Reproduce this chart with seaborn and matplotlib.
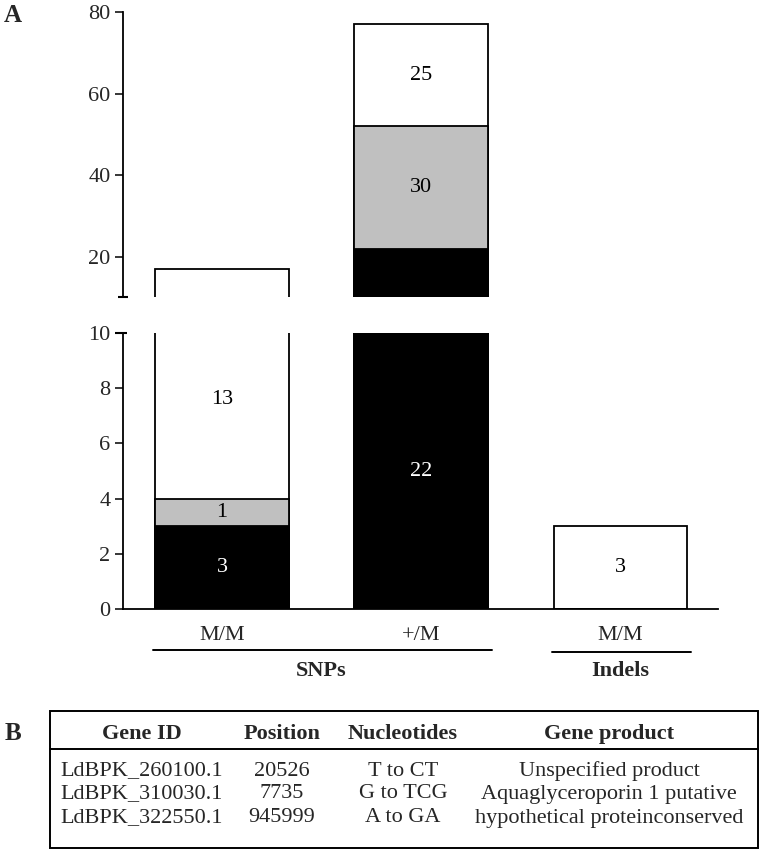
import matplotlib
matplotlib.use("Agg")
import matplotlib.pyplot as plt
import matplotlib.transforms as mtrans
from matplotlib.patches import Rectangle
from matplotlib.lines import Line2D
import seaborn as sns
import pandas as pd

# ---------------- data ----------------
bar_keys = ["SNPs M/M", "SNPs +/M", "Indels M/M"]
tick_labels = ["M/M", "+/M", "M/M"]
groups = ["SNPs", "SNPs", "Indels"]
black_vals = [3, 22, 0]
gray_vals = [1, 30, 0]
white_vals = [13, 25, 3]

table_header = ["Gene ID", "Position", "Nucleotides", "Gene product"]
gene_ids = ["LdBPK_260100.1", "LdBPK_310030.1", "LdBPK_322550.1"]
positions = ["20526", "7735", "945999"]
nucleotides = ["T to CT", "G to TCG", "A to GA"]
products = ["Unspecified product", "Aquaglyceroporin 1 putative", "hypothetical proteinconserved"]

# ---------------- style ----------------
sns.set_style("ticks")
plt.rcParams["font.family"] = ["Liberation Serif", "DejaVu Serif"]
plt.rcParams["font.size"] = 16
plt.rcParams["axes.linewidth"] = 1.3
plt.rcParams["xtick.major.width"] = 1.3
plt.rcParams["ytick.major.width"] = 1.3
plt.rcParams["axes.edgecolor"] = "black"

W, H = 764, 852
fig = plt.figure(figsize=(W / 100, H / 100), dpi=100)

def fx(px):
    return px / W

def fy(py):
    return 1 - py / H

ax_lo = fig.add_axes([fx(123), fy(609), fx(718) - fx(123), fy(333) - fy(609)])
ax_hi = fig.add_axes([fx(123), fy(297), fx(718) - fx(123), fy(12) - fy(297)])

df = pd.DataFrame({
    "bar": bar_keys,
    "black": black_vals,
    "gray": gray_vals,
    "white": white_vals,
})
df["cum_black"] = df["black"]
df["cum_gray"] = df["black"] + df["gray"]
df["cum_white"] = df["cum_gray"] + df["white"]

GRAY = "#c0c0c0"
bw = 0.67
for ax in (ax_lo, ax_hi):
    for col, color in [("cum_white", "white"), ("cum_gray", GRAY), ("cum_black", "black")]:
        sns.barplot(data=df, x="bar", y=col, order=bar_keys, color=color,
                    width=bw, edgecolor="black", linewidth=1.3, ax=ax,
                    saturation=1, errorbar=None, zorder=2)
    ax.set_xlim(-0.497, 2.49)
    ax.set_xlabel("")
    ax.set_ylabel("")
    ax.spines["right"].set_visible(False)
    ax.spines["top"].set_visible(False)
    ax.tick_params(axis="y", direction="out", length=6, width=1.3, labelsize=16, pad=3)

ax_lo.set_ylim(0, 10)
ax_lo.set_yticks([0, 2, 4, 6, 8, 10])
ax_lo.set_xticks(range(len(bar_keys)))
ax_lo.set_xticklabels(tick_labels, fontsize=16)
ax_lo.tick_params(axis="x", length=0, pad=12)

ax_hi.set_ylim(10.2, 80)
ax_hi.set_yticks([20, 40, 60, 80])
ax_hi.spines["bottom"].set_visible(False)
ax_hi.set_xticks([])

# break caps on the y spine
ax_hi.plot([-0.009, 0.009], [0, 0], transform=ax_hi.transAxes, color="black",
           lw=1.5, clip_on=False, solid_capstyle="butt")
ax_lo.plot([-0.013, 0.006], [1, 1], transform=ax_lo.transAxes, color="black",
           lw=1.5, clip_on=False, solid_capstyle="butt")

# segment labels
for i in range(len(bar_keys)):
    segs = [(0, black_vals[i], "white"),
            (black_vals[i], black_vals[i] + gray_vals[i], "black"),
            (black_vals[i] + gray_vals[i], black_vals[i] + gray_vals[i] + white_vals[i], "black")]
    vals = [black_vals[i], gray_vals[i], white_vals[i]]
    for (b, t, tc), v in zip(segs, vals):
        if v <= 0:
            continue
        if b < 10:
            y = (b + min(t, 10)) / 2
            if t > 10 and b > 0:
                y = b + (10 - b) * 0.6
            ax_lo.text(i, y, str(v), ha="center", va="center", color=tc, fontsize=16, zorder=5)
        else:
            y = (b + t) / 2
            ax_hi.text(i, y, str(v), ha="center", va="center", color=tc, fontsize=16, zorder=5)

# group underline and labels
trans = mtrans.blended_transform_factory(ax_lo.transData, fig.transFigure)
for g in ["SNPs", "Indels"]:
    idx = [k for k, gg in enumerate(groups) if gg == g]
    x0 = min(idx) - bw / 2 - 0.01
    x1 = max(idx) + bw / 2 + 0.02
    yline = fy(650) if g == "SNPs" else fy(652)
    ax_lo.plot([x0, x1], [yline, yline], transform=trans, color="black", lw=1.4,
               clip_on=False)
    ax_lo.text((min(idx) + max(idx)) / 2, fy(671), g, transform=trans, ha="center",
               va="center", fontsize=16, fontweight="bold")

# panel letters
fig.text(fx(13), fy(16), "A", fontsize=18, fontweight="bold", ha="center", va="center")
fig.text(fx(13), fy(733), "B", fontsize=18, fontweight="bold", ha="center", va="center")

# table
fig.add_artist(Rectangle((fx(50), fy(848)), fx(758) - fx(50), fy(711) - fy(848),
                         transform=fig.transFigure, fill=False, edgecolor="black", lw=1.4))
fig.add_artist(Line2D([fx(50), fx(758)], [fy(749), fy(749)], transform=fig.transFigure,
                      color="black", lw=1.4))
col_x = [142, 282, 403, 609]
for cx, h in zip(col_x, table_header):
    fig.text(fx(cx), fy(734), h, ha="center", va="center", fontsize=16, fontweight="bold")
row_y = [771, 794, 818]
for ry, cells in zip(row_y, zip(gene_ids, positions, nucleotides, products)):
    for cx, c in zip(col_x, cells):
        fig.text(fx(cx), fy(ry), c, ha="center", va="center", fontsize=16)

fig.savefig("out.png", dpi=100, facecolor="white")
